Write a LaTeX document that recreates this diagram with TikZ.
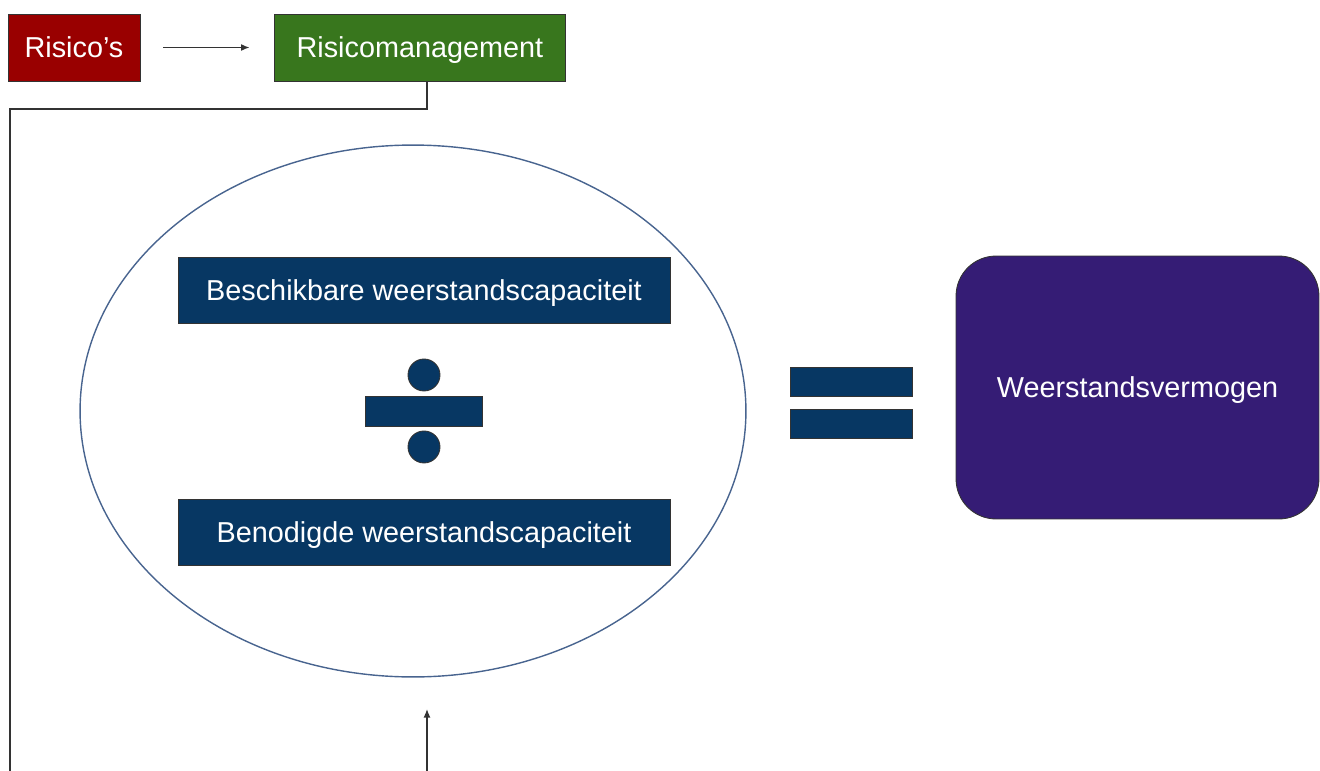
\documentclass[tikz,border=0pt]{standalone}
\usepackage{fontspec}
\setmainfont{Liberation Sans}
\usetikzlibrary{positioning, arrows.meta, shapes.geometric}

\definecolor{risicored}{HTML}{990000}
\definecolor{mgmtgreen}{HTML}{38761D}
\definecolor{capnavy}{HTML}{073763}
\definecolor{vermpurple}{HTML}{351C75}
\definecolor{ringblue}{HTML}{48648F}

\tikzset{
  txt/.style={font=\fontsize{16.4}{19}\selectfont, text=white, text height=11.7pt, text depth=0pt},
  plainbox/.style={draw=black!80, line width=0.5pt, inner sep=0pt},
  capbox/.style={plainbox, fill=capnavy, txt, minimum width=9.84cm, minimum height=1.32cm},
  bar/.style={plainbox, fill=capnavy},
  dot/.style={plainbox, circle, fill=capnavy, minimum size=0.64cm},
  link/.style={draw=black!80, line width=0.8pt, -{Latex[length=1.7mm, width=1.4mm]}}
}

\begin{document}
\begin{tikzpicture}[x=0.02cm, y=-0.02cm, node distance=1cm, on grid]
    \useasboundingbox (0,0) rectangle (1320,771);
    \clip (0,0) rectangle (1320,771);
            \node[plainbox, fill=risicored, txt, minimum width=2.64cm, minimum height=1.34cm] (risico) at (74,47.5) {Risico's};
            \node[plainbox, fill=mgmtgreen, txt, minimum width=5.84cm, minimum height=1.34cm] (mgmt) [right=6.92cm of risico] {Risicomanagement};
            \node[ellipse, draw=ringblue, line width=0.8pt, minimum width=13.32cm, minimum height=10.64cm] (ring) at (413,411) {};
            \node[capbox] (beschik) at (424,290) {Beschikbare weerstandscapaciteit};
            \node[bar, minimum width=2.34cm, minimum height=0.6cm] (divbar) [below=2.42cm of beschik] {};
            \node[dot] (dottop) [above=0.72cm of divbar] {};
            \node[dot] (dotbot) [below=0.72cm of divbar] {};
            \node[capbox] (benod) [below=2.42cm of divbar] {Benodigde weerstandscapaciteit};
            \node[bar, minimum width=2.44cm, minimum height=0.58cm] (eqtop) at (851,381.5) {};
            \node[bar, minimum width=2.44cm, minimum height=0.58cm] (eqbot) [below=0.85cm of eqtop] {};
            \node[plainbox, fill=vermpurple, txt, rounded corners=0.8cm, minimum width=7.26cm, minimum height=5.26cm] (verm) at (1137.5,387.5) {Weerstandsvermogen};
            \coordinate (turn) at (10,109);
            \coordinate (base) at (10,820);
            \coordinate (entry) at (427,709);
                \draw[link, shorten <=0.46cm, shorten >=0.48cm] (risico) -- (mgmt);
                \draw[link] (mgmt.south -| entry) |- (turn) -- (base) -| (entry);
        \end{tikzpicture}
\end{document}
